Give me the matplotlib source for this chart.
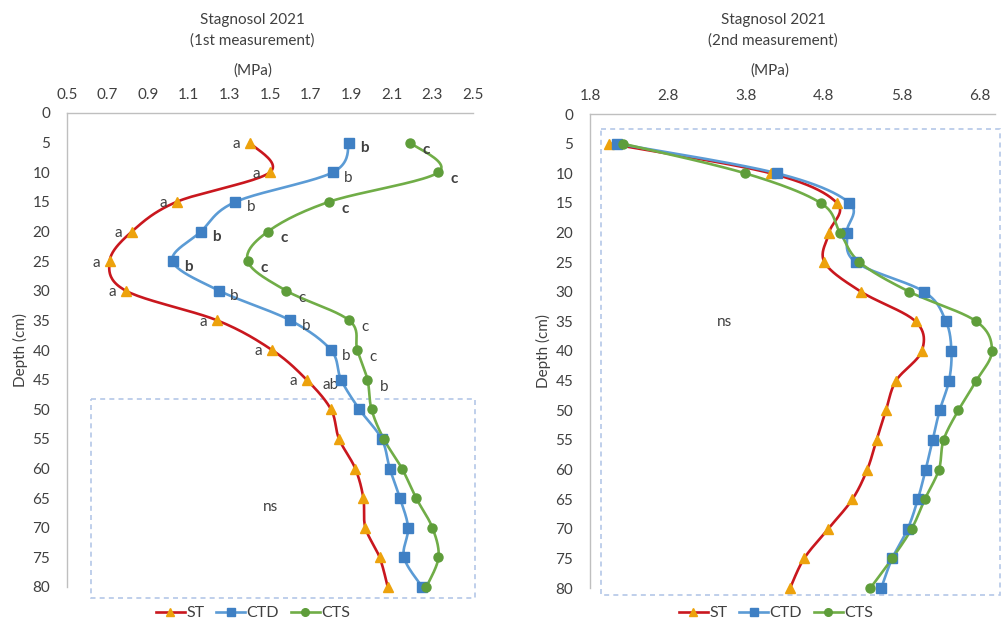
import numpy as np
import matplotlib
matplotlib.use("Agg")
import matplotlib.pyplot as plt
from matplotlib.lines import Line2D
from matplotlib.patches import Rectangle

plt.rcParams['font.family'] = ['Lato', 'DejaVu Sans']

depth = [5, 10, 15, 20, 25, 30, 35, 40, 45, 50, 55, 60, 65, 70, 75, 80]
series_names = ["ST", "CTD", "CTS"]

# 1st measurement (MPa)
st_1 = [1.40, 1.50, 1.04, 0.82, 0.71, 0.79, 1.24, 1.51, 1.68, 1.80, 1.84, 1.92, 1.96, 1.97, 2.04, 2.08]
ctd_1 = [1.89, 1.81, 1.33, 1.16, 1.02, 1.25, 1.60, 1.80, 1.85, 1.94, 2.05, 2.09, 2.14, 2.18, 2.16, 2.25]
cts_1 = [2.19, 2.33, 1.79, 1.49, 1.39, 1.58, 1.89, 1.93, 1.98, 2.00, 2.06, 2.15, 2.22, 2.30, 2.33, 2.27]

# 2nd measurement (MPa)
st_2 = [2.05, 4.12, 4.97, 4.87, 4.81, 5.28, 5.98, 6.06, 5.73, 5.60, 5.48, 5.36, 5.17, 4.86, 4.55, 4.37]
ctd_2 = [2.15, 4.20, 5.13, 5.10, 5.21, 6.09, 6.37, 6.44, 6.41, 6.29, 6.20, 6.11, 6.01, 5.88, 5.68, 5.54]
cts_2 = [2.22, 3.79, 4.76, 5.01, 5.26, 5.90, 6.76, 6.96, 6.76, 6.53, 6.34, 6.28, 6.10, 5.93, 5.68, 5.40]

# significance letters (1st measurement, depths 5..45)
letters_st = ["a"] * 9
letters_ctd = ["b"] * 8 + ["ab"]
letters_cts = ["c"] * 8 + ["b"]

x_ticks_1 = [0.5, 0.7, 0.9, 1.1, 1.3, 1.5, 1.7, 1.9, 2.1, 2.3, 2.5]
x_ticks_2 = [1.8, 2.8, 3.8, 4.8, 5.8, 6.8]
y_ticks = [0, 5, 10, 15, 20, 25, 30, 35, 40, 45, 50, 55, 60, 65, 70, 75, 80]

W, H = 1001, 621
fig = plt.figure(figsize=(W / 100, H / 100), dpi=100)

line_cols = ["#C9171E", "#5B9BD5", "#70AD47"]
mk_cols = ["#EDA20C", "#3F80C4", "#5E9D3A"]
markers = ["^", "s", "o"]
msizes = [7.0, 7.0, 6.5]
txt_col = "#404040"
FS = 11


def smooth(xs, ys, ax, npts=24):
    """Bezier (Catmull-Rom style) smoothing through points, in display-proportional space."""
    bb = ax.get_position()
    xmin, xmax = ax.get_xlim()
    y0, y1 = ax.get_ylim()
    sx = bb.width * W / (xmax - xmin)
    sy = bb.height * H / abs(y1 - y0)
    P = np.column_stack([np.asarray(xs) * sx, np.asarray(ys) * sy])
    P = np.vstack([P[0], P, P[-1]])
    out = []
    for i in range(1, len(P) - 2):
        p0, p1, p2, p3 = P[i - 1], P[i], P[i + 1], P[i + 2]
        t = np.linspace(0, 1, npts)[:, None]
        c1 = p1 + (p2 - p0) / 6.0
        c2 = p2 - (p3 - p1) / 6.0
        seg = ((1 - t) ** 3) * p1 + 3 * ((1 - t) ** 2) * t * c1 + 3 * (1 - t) * t ** 2 * c2 + t ** 3 * p2
        out.append(seg if i == 1 else seg[1:])
    out = np.vstack(out)
    return out[:, 0] / sx, out[:, 1] / sy


def setup(ax, xlim, xticks):
    ax.set_xlim(*xlim)
    ax.set_ylim(80, 0)
    ax.xaxis.tick_top()
    ax.set_xticks(xticks)
    ax.set_xticklabels([f"{v:.1f}" for v in xticks])
    ax.set_yticks(y_ticks)
    ax.tick_params(axis="both", length=0, labelsize=FS, colors=txt_col)
    ax.tick_params(axis="x", pad=8)
    ax.tick_params(axis="y", pad=12)
    for s in ["right", "bottom"]:
        ax.spines[s].set_visible(False)
    for s in ["top", "left"]:
        ax.spines[s].set_color("#BFBFBF")
        ax.spines[s].set_linewidth(1.0)
    ax.set_ylabel("Depth (cm)", fontsize=FS, color=txt_col, labelpad=3)


def draw_series(ax, data):
    for k, xs in enumerate(data):
        sx, sy = smooth(xs, depth, ax)
        ax.plot(sx, sy, color=line_cols[k], lw=1.9, zorder=3, solid_capstyle="round", clip_on=False)
        ax.plot(xs, depth, ls="none", marker=markers[k], ms=msizes[k],
                mfc=mk_cols[k], mec=mk_cols[k], zorder=4, clip_on=False)


# ---------- left panel ----------
ax1 = fig.add_axes([67 / W, 1 - 587 / H, 406 / W, 474 / H])
setup(ax1, (0.5, 2.5), x_ticks_1)
draw_series(ax1, [st_1, ctd_1, cts_1])

bold_ctd = {0, 3, 4}
bold_cts = {0, 1, 2, 3, 4}
for i, lab in enumerate(letters_st):
    ax1.annotate(lab, (st_1[i], depth[i]), xytext=(-7, -1), textcoords="offset points",
                 ha="right", va="center", fontsize=FS, color=txt_col)
for i, lab in enumerate(letters_ctd):
    if lab == "ab":
        ax1.annotate(lab, (ctd_1[i], depth[i]), xytext=(-2, -4), textcoords="offset points",
                     ha="right", va="center", fontsize=FS, color=txt_col)
    else:
        ax1.annotate(lab, (ctd_1[i], depth[i]), xytext=(8, -4), textcoords="offset points",
                     ha="left", va="center", fontsize=FS, color=txt_col,
                     fontweight="bold" if i in bold_ctd else "normal")
for i, lab in enumerate(letters_cts):
    ax1.annotate(lab, (cts_1[i], depth[i]), xytext=(9, -5), textcoords="offset points",
                 ha="left", va="center", fontsize=FS, color=txt_col,
                 fontweight="bold" if i in bold_cts else "normal")

box1 = Rectangle((0.62, 48.3), 1.89, 33.6, fill=False, ec="#B4C7E7", lw=1.2,
                 ls=(0, (3, 2.5)), clip_on=False, zorder=1)
ax1.add_patch(box1)
ax1.text(1.50, 66.5, "ns", ha="center", va="center", fontsize=FS, color=txt_col)

fig.text(252 / W, 1 - 20 / H, "Stagnosol 2021", ha="center", va="center", fontsize=FS, color=txt_col)
fig.text(252 / W, 1 - 41 / H, "(1st measurement)", ha="center", va="center", fontsize=FS, color=txt_col)
fig.text(253 / W, 1 - 71 / H, "(MPa)", ha="center", va="center", fontsize=FS, color=txt_col)

# ---------- right panel ----------
ax2 = fig.add_axes([590 / W, 1 - 588 / H, 405 / W, 474 / H])
setup(ax2, (1.8, 7.0), x_ticks_2)
draw_series(ax2, [st_2, ctd_2, cts_2])

box2 = Rectangle((1.94, 2.6), 5.12, 78.5, fill=False, ec="#B4C7E7", lw=1.2,
                 ls=(0, (3, 2.5)), clip_on=False, zorder=1)
ax2.add_patch(box2)
ax2.text(3.53, 35.1, "ns", ha="center", va="center", fontsize=FS, color=txt_col)

fig.text(773 / W, 1 - 20 / H, "Stagnosol 2021", ha="center", va="center", fontsize=FS, color=txt_col)
fig.text(773 / W, 1 - 41 / H, "(2nd measurement)", ha="center", va="center", fontsize=FS, color=txt_col)
fig.text(770 / W, 1 - 71 / H, "(MPa)", ha="center", va="center", fontsize=FS, color=txt_col)

# ---------- legends ----------
handles = [Line2D([], [], color=line_cols[k], lw=1.9, marker=markers[k], ms=msizes[k] - 1.0,
                  mfc=mk_cols[k], mec=mk_cols[k]) for k in range(3)]
for cx in (253 / W, 776 / W):
    fig.legend(handles, series_names, loc="center", bbox_to_anchor=(cx, 1 - 613 / H),
               ncol=3, frameon=False, fontsize=FS + 0.5, handlelength=1.8, handletextpad=0.1,
               columnspacing=0.75, labelcolor=txt_col, borderpad=0.1)

fig.savefig("out.png", dpi=100)
